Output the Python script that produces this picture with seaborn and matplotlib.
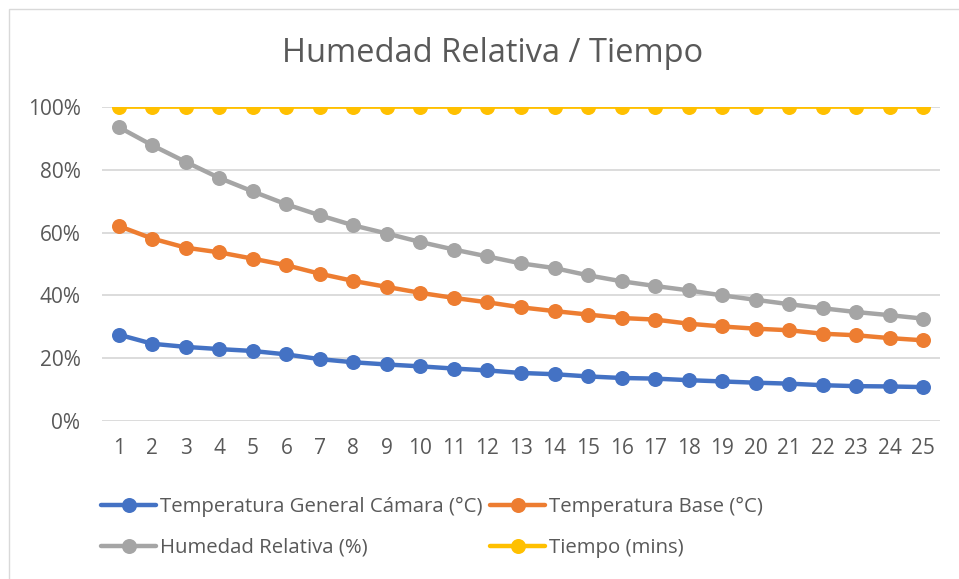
import numpy as np
import pandas as pd
import matplotlib
matplotlib.use("Agg")
import matplotlib.pyplot as plt
from matplotlib.patches import Rectangle
from matplotlib.ticker import PercentFormatter
import seaborn as sns

minutos = list(range(1, 26))

temp_camara = [27.5, 24.6, 23.6, 22.9, 22.3, 21.2, 19.7, 18.7, 18.0, 17.4,
               16.7, 16.1, 15.3, 14.9, 14.2, 13.7, 13.5, 13.0, 12.6, 12.2,
               11.9, 11.4, 11.1, 11.0, 10.8]
temp_base = [62.1, 58.1, 55.2, 53.7, 51.7, 49.6, 46.9, 44.6, 42.7, 40.8,
             39.2, 37.8, 36.2, 35.0, 33.9, 32.8, 32.3, 31.0, 30.1, 29.4,
             28.9, 27.8, 27.3, 26.4, 25.7]
humedad = [93.6, 87.8, 82.5, 77.4, 73.1, 69.0, 65.5, 62.3, 59.7, 57.0,
           54.6, 52.4, 50.2, 48.7, 46.4, 44.5, 43.0, 41.6, 40.0, 38.6,
           37.2, 35.9, 34.7, 33.7, 32.6]
tiempo = [100.0] * 25

series = ["Temperatura General Cámara (°C)", "Temperatura Base (°C)",
          "Humedad Relativa (%)", "Tiempo (mins)"]
colores = ["#4472C4", "#ED7D31", "#A5A5A5", "#FFC000"]

df = pd.DataFrame({"x": minutos * 4,
                   "valor": temp_camara + temp_base + humedad + tiempo,
                   "serie": np.repeat(series, 25)})

sns.set_style("white")
plt.rcParams["font.family"] = ["Open Sans", "DejaVu Sans"]

W, H = 959, 579
fig = plt.figure(figsize=(W / 100, H / 100), dpi=100)
ax = fig.add_axes([102 / W, 1 - 421 / H, (940 - 102) / W, (421 - 107) / H])

sns.lineplot(data=df, x="x", y="valor", hue="serie", hue_order=series,
             palette=colores, marker="o", markersize=10.8, markeredgewidth=0,
             linewidth=3.2, ax=ax, legend=True)
# the yellow line is thinner in the original
ax.lines[3].set_linewidth(2)

ax.set_ylim(0, 100)
ax.set_xlim(0.5, 25.5)
ax.set_yticks([0, 20, 40, 60, 80, 100])
ax.yaxis.set_major_formatter(PercentFormatter(decimals=0))
ax.set_xticks(minutos)
ax.grid(axis="y", color="#D9D9D9", linewidth=1.3)
ax.set_axisbelow(True)
for s in ax.spines.values():
    s.set_visible(False)
ax.tick_params(length=0, labelsize=15, labelcolor="#595959")
ax.tick_params(axis="y", pad=15.5)
ax.tick_params(axis="x", pad=12)
ax.set_xlabel("")
ax.set_ylabel("")

fig.text(493 / W, 1 - 54 / H, "Humedad Relativa / Tiempo", ha="center",
         va="center", fontsize=23.5, color="#595959")

# Excel fills the legend row by row
handles, labels = ax.get_legend_handles_labels()
orden = [0, 2, 1, 3]
ax.legend([handles[i] for i in orden], [labels[i] for i in orden], ncol=2,
          loc="upper left", bbox_to_anchor=(93 / W, 1 - 489 / H),
          bbox_transform=fig.transFigure, frameon=False, fontsize=14.7,
          labelcolor="#595959", handlelength=2.7, handletextpad=0.2,
          columnspacing=0.35, labelspacing=1.0, borderaxespad=0)

fig.patches.append(Rectangle((9 / W, -0.1), 1.2, 1.1 - 9 / H,
                             transform=fig.transFigure, fill=False,
                             edgecolor="#D9D9D9", linewidth=1))

fig.savefig("out.png", dpi=100)
